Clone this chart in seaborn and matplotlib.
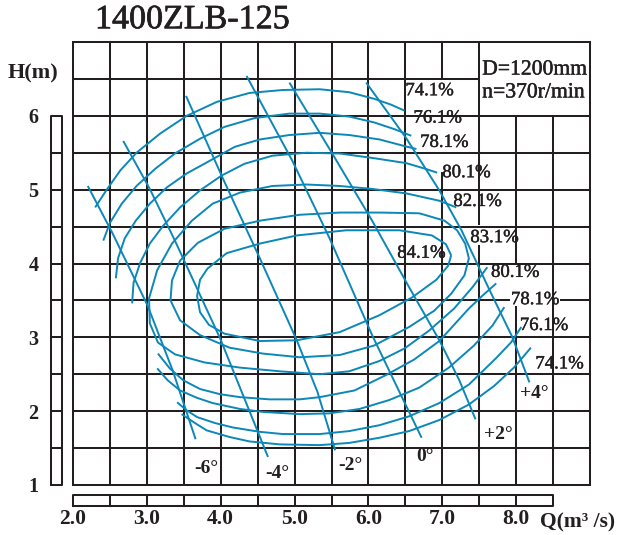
import numpy as np
import pandas as pd
import matplotlib
matplotlib.use("Agg")
import matplotlib.pyplot as plt
import matplotlib.patheffects as pe
import seaborn as sns

# ---------------- data (Q in m3/s, H in m) ----------------
title = "1400ZLB-125"
x_ticks = [2.0, 3.0, 4.0, 5.0, 6.0, 7.0, 8.0]
x_tick_labels = ["2.0", "3.0", "4.0", "5.0", "6.0", "7.0", "8.0"]
y_ticks = [1, 2, 3, 4, 5, 6]
y_tick_labels = ["1", "2", "3", "4", "5", "6"]

# efficiency contours
eff741_up_q = [2.30, 2.45, 2.64, 2.86, 3.18, 3.54, 3.95, 4.39, 4.84, 5.34, 5.74, 6.08, 6.31, 6.49]
eff741_up_h = [4.76, 4.99, 5.26, 5.50, 5.76, 6.00, 6.19, 6.31, 6.35, 6.36, 6.32, 6.23, 6.15, 6.07]
eff761_up_q = [2.41, 2.50, 2.66, 2.86, 3.11, 3.38, 3.72, 4.05, 4.46, 4.93, 5.34, 5.74, 6.08, 6.35, 6.58]
eff761_up_h = [4.31, 4.55, 4.81, 5.05, 5.28, 5.49, 5.69, 5.85, 5.97, 6.03, 6.03, 5.99, 5.91, 5.82, 5.73]
eff781_up_q = [2.58, 2.61, 2.70, 2.85, 3.04, 3.27, 3.54, 3.85, 4.19, 4.53, 4.93, 5.34, 5.74, 6.15, 6.49, 6.65]
eff781_up_h = [3.80, 4.07, 4.34, 4.58, 4.81, 5.03, 5.22, 5.39, 5.58, 5.68, 5.74, 5.77, 5.74, 5.68, 5.59, 5.55]
eff801_up_q = [2.80, 2.82, 2.91, 3.04, 3.22, 3.45, 3.72, 4.01, 4.32, 4.70, 5.16, 5.61, 6.05, 6.51, 6.78, 6.93]
eff801_up_h = [3.46, 3.74, 4.01, 4.27, 4.51, 4.76, 4.99, 5.19, 5.35, 5.46, 5.50, 5.49, 5.43, 5.36, 5.28, 5.23]
eff821_q = [7.19, 6.96, 6.51, 6.05, 5.61, 5.16, 4.70, 4.26, 3.89, 3.61, 3.34, 3.14, 3.03, 3.04,
            3.15, 3.38, 3.78, 4.26, 4.80, 5.34, 5.74, 6.15, 6.49, 6.82, 7.16, 7.41, 7.61]
eff821_h = [4.76, 4.85, 4.95, 5.01, 5.05, 5.07, 5.05, 4.96, 4.81, 4.58, 4.27, 3.91, 3.53, 3.19,
            2.93, 2.77, 2.66, 2.59, 2.54, 2.50, 2.54, 2.68, 2.85, 3.09, 3.39, 3.68, 3.95]
eff831_q = [6.69, 7.03, 7.20, 7.31, 7.36, 7.30, 7.12, 6.89, 6.55, 6.08, 5.61, 5.07, 4.57, 4.12,
            3.72, 3.45, 3.32, 3.34, 3.45, 3.69, 4.05, 4.53, 5.07, 5.61, 6.15, 6.69]
eff831_h = [4.68, 4.58, 4.45, 4.27, 4.07, 3.84, 3.59, 3.36, 3.14, 2.89, 2.76, 2.73, 2.78, 2.86,
            3.03, 3.23, 3.50, 3.77, 4.04, 4.28, 4.47, 4.58, 4.66, 4.69, 4.69, 4.68]
eff841_q = [7.12, 7.05, 6.86, 6.42, 5.70, 5.03, 4.53, 4.08, 3.82, 3.72, 3.68, 3.72, 3.84, 4.05, 4.53,
            5.03, 5.61, 6.15, 6.59, 6.92, 7.08, 7.12]
eff841_h = [4.11, 4.26, 4.38, 4.45, 4.45, 4.38, 4.27, 4.14, 3.93, 3.78, 3.56, 3.34, 3.17, 3.05, 2.95,
            2.96, 3.07, 3.30, 3.54, 3.78, 3.97, 4.11]
eff801_lo_q = [3.15, 3.31, 3.49, 3.72, 3.99, 4.26, 4.66, 5.07, 5.34, 5.81, 6.24, 6.62, 6.96, 7.36, 7.55, 7.73]
eff801_lo_h = [2.78, 2.58, 2.42, 2.30, 2.23, 2.19, 2.16, 2.16, 2.19, 2.28, 2.49, 2.70, 2.95, 3.39, 3.57, 3.73]
eff781_lo_q = [3.14, 3.28, 3.45, 3.68, 3.89, 4.26, 4.57, 5.07, 5.47, 5.88, 6.28, 6.69, 7.09, 7.43, 7.68, 7.84]
eff781_lo_h = [2.58, 2.42, 2.28, 2.18, 2.11, 2.03, 1.99, 1.96, 1.97, 2.03, 2.15, 2.32, 2.59, 2.89, 3.16, 3.41]
eff761_lo_q = [3.41, 3.54, 3.68, 3.92, 4.16, 4.53, 4.84, 5.34, 5.74, 6.15, 6.55, 6.96, 7.36, 7.73, 7.93, 8.07]
eff761_lo_h = [2.12, 2.01, 1.92, 1.84, 1.78, 1.72, 1.69, 1.69, 1.73, 1.81, 1.93, 2.11, 2.36, 2.72, 2.93, 3.14]
eff741_lo_q = [3.47, 3.65, 3.81, 4.12, 4.39, 4.80, 5.34, 5.74, 6.15, 6.55, 6.96, 7.36, 7.70, 7.97, 8.20]
eff741_lo_h = [1.96, 1.84, 1.74, 1.65, 1.59, 1.55, 1.54, 1.57, 1.64, 1.73, 1.88, 2.09, 2.34, 2.59, 2.86]

# blade-angle H-Q lines
blade_m6_q = [2.20, 2.53, 3.01, 3.35, 3.66]
blade_m6_h = [5.05, 4.42, 3.43, 2.55, 1.62]
blade_m4_q = [2.68, 3.04, 3.38, 3.99, 4.64]
blade_m4_h = [5.66, 5.01, 4.31, 2.99, 1.38]
blade_m2_q = [3.53, 4.03, 4.53, 5.03, 5.31, 5.55]
blade_m2_h = [6.27, 5.15, 4.07, 2.96, 2.26, 1.47]
blade_0_q = [4.35, 4.97, 5.47, 6.05, 6.42, 6.72]
blade_0_h = [6.54, 5.39, 4.35, 3.03, 2.26, 1.64]
blade_p2_q = [4.93, 5.51, 6.05, 6.55, 6.96, 7.23, 7.45]
blade_p2_h = [6.45, 5.49, 4.58, 3.68, 2.96, 2.42, 1.89]
blade_p4_q = [5.97, 6.51, 6.96, 7.26, 7.64, 7.95, 8.18]
blade_p4_h = [6.45, 5.70, 4.99, 4.45, 3.64, 3.00, 2.39]

# labels
eff_label_text = ["74.1%", "76.1%", "78.1%", "80.1%", "82.1%", "83.1%", "84.1%",
                  "80.1%", "78.1%", "76.1%", "74.1%"]
eff_label_q = [6.50, 6.61, 6.70, 7.00, 7.15, 7.38, 6.39, 7.66, 7.93, 8.05, 8.26]
eff_label_h = [6.34, 5.97, 5.64, 5.23, 4.84, 4.35, 4.14, 3.88, 3.51, 3.16, 2.64]
blade_label_text = ["-6°", "-4°", "-2°", "0°", "+2°", "+4°"]
blade_label_q = [3.81, 4.77, 5.76, 6.77, 7.76, 8.24]
blade_label_h = [1.23, 1.16, 1.27, 1.38, 1.68, 2.24]
info_lines = ["D=1200mm", "n=370r/min"]
info_h = [6.62, 6.31]
info_q = 7.54

# ---------------- drawing ----------------
sns.set_theme(style="white")
plt.rcParams['font.family'] = ['Liberation Serif', 'DejaVu Serif']

BLUE = "#0b87b8"
INK = "#231f20"
GLW = 1.45

W, Hpx = 619, 535
fig = plt.figure(figsize=(W / 100, Hpx / 100), dpi=100)
fig.patch.set_facecolor("white")
ax = fig.add_axes([73 / W, 50 / Hpx, 517 / W, 443 / Hpx])
ax.set_xlim(2, 9)
ax.set_ylim(1, 7)
ax.set_facecolor("white")
for s in ax.spines.values():
    s.set_visible(False)

# grid with the gaps seen in the reference
v_gaps = {7.0: [(1, 5.23), (6.5, 7)], 7.5: [(1, 4.24), (4.54, 7)],
          8.0: [(1, 3.41), (4.0, 6.0)], 8.5: [(1, 6.0)]}
h_gaps = {6.5: [(2, 7.5)], 3.5: [(2, 7.9), (8.61, 9)]}
for q in np.arange(2.0, 9.01, 0.5):
    for a, b in v_gaps.get(round(q, 1), [(1, 7)]):
        ax.plot([q, q], [a, b], color=INK, lw=GLW, clip_on=False, zorder=1,
                solid_capstyle="projecting")
for h in np.arange(1.0, 7.01, 0.5):
    for a, b in h_gaps.get(round(h, 1), [(2, 9)]):
        ax.plot([a, b], [h, h], color=INK, lw=GLW, clip_on=False, zorder=1,
                solid_capstyle="projecting")

curves = {
    "e741u": (eff741_up_q, eff741_up_h), "e761u": (eff761_up_q, eff761_up_h),
    "e781u": (eff781_up_q, eff781_up_h), "e801u": (eff801_up_q, eff801_up_h),
    "e821": (eff821_q, eff821_h), "e831": (eff831_q, eff831_h), "e841": (eff841_q, eff841_h),
    "e801l": (eff801_lo_q, eff801_lo_h), "e781l": (eff781_lo_q, eff781_lo_h),
    "e761l": (eff761_lo_q, eff761_lo_h), "e741l": (eff741_lo_q, eff741_lo_h),
    "bm6": (blade_m6_q, blade_m6_h), "bm4": (blade_m4_q, blade_m4_h),
    "bm2": (blade_m2_q, blade_m2_h), "b0": (blade_0_q, blade_0_h),
    "bp2": (blade_p2_q, blade_p2_h), "bp4": (blade_p4_q, blade_p4_h),
}
rows = []
for name, (qs, hs) in curves.items():
    for i, (q, h) in enumerate(zip(qs, hs)):
        rows.append({"curve": name, "order": i, "Q": q, "H": h})
df = pd.DataFrame(rows)
sns.lineplot(data=df, x="Q", y="H", units="curve", estimator=None, sort=False,
             color=BLUE, lw=1.4, ax=ax, legend=False, zorder=3)
for ln in ax.lines[-len(curves):]:
    ln.set_solid_joinstyle("round")
    ln.set_solid_capstyle("butt")

thick = [pe.withStroke(linewidth=0.3, foreground=INK)]
for t, q, h in zip(eff_label_text, eff_label_q, eff_label_h):
    ax.text(q, h, t, fontsize=13.5, ha="left", va="center", color=INK, zorder=5,
            path_effects=thick)
for t, q, h in zip(blade_label_text, blade_label_q, blade_label_h):
    ax.text(q, h, t, fontsize=14, fontweight="bold", ha="center", va="center",
            color=INK, zorder=5)
for t, h in zip(info_lines, info_h):
    ax.text(info_q, h, t, fontsize=15.6, ha="left", va="center", color=INK, zorder=5,
            path_effects=thick)

ax.set_xlabel("")
ax.set_ylabel("")
ax.set_xticks(x_ticks)
ax.set_xticklabels(x_tick_labels, fontsize=15.5, fontweight="bold", color=INK)
ax.set_yticks(y_ticks)
ax.set_yticklabels(y_tick_labels, fontsize=14.5, fontweight="bold", color=INK)
ax.tick_params(axis="x", length=0, pad=17)
ax.tick_params(axis="y", length=0, pad=25)

# left ruler strip (H 1..6)
axl = fig.add_axes([51 / W, 50 / Hpx, 11 / W, 443 / Hpx])
axl.set_xlim(0, 1)
axl.set_ylim(1, 7)
axl.axis("off")
axl.plot([0, 1, 1, 0, 0], [1, 1, 6, 6, 1], color=INK, lw=GLW, clip_on=False)
for h in np.arange(1.5, 6.0, 0.5):
    axl.plot([0, 1], [h, h], color=INK, lw=GLW, clip_on=False)

# bottom ruler strip (Q 2..8.5)
axb = fig.add_axes([73 / W, 29 / Hpx, 517 / W, 11 / Hpx])
axb.set_xlim(2, 9)
axb.set_ylim(0, 1)
axb.axis("off")
axb.plot([2, 8.5, 8.5, 2, 2], [0, 0, 1, 1, 0], color=INK, lw=GLW, clip_on=False)
for q in np.arange(2.5, 8.5, 0.5):
    axb.plot([q, q], [0, 1], color=INK, lw=GLW, clip_on=False)

fig.text(95 / W, 1 - 20 / Hpx, title, fontsize=24.5, ha="left", va="center", color=INK,
         path_effects=[pe.withStroke(linewidth=0.5, foreground=INK)])
fig.text(8 / W, 1 - 73 / Hpx, "H(m)", fontsize=16, fontweight="bold", ha="left",
         va="center", color=INK)
fig.text(540 / W, 1 - 522 / Hpx, "Q(m³ /s)", fontsize=15.5, fontweight="bold",
         ha="left", va="center", color=INK)

fig.savefig("out.png", dpi=100, facecolor="white")
